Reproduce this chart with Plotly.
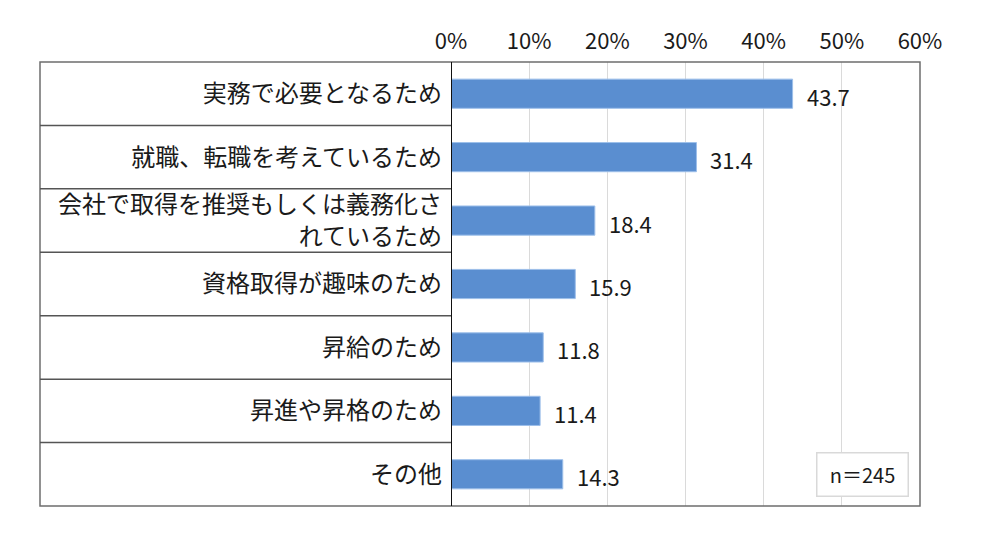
import plotly.graph_objects as go

categories = [
    "実務で必要となるため",
    "就職、転職を考えているため",
    "会社で取得を推奨もしくは義務化さ<br>れているため",
    "資格取得が趣味のため",
    "昇給のため",
    "昇進や昇格のため",
    "その他",
]
values = [43.7, 31.4, 18.4, 15.9, 11.8, 11.4, 14.3]
tick_vals = [0, 10, 20, 30, 40, 50, 60]
tick_text = ["0%", "10%", "20%", "30%", "40%", "50%", "60%"]
note = "n＝245"

# page body has an 8px margin; size the figure to fit the window
OFF = 8
W, H = 1000 - 2 * OFF, 540 - 2 * OFF
L, T = 451 - OFF, 62 - OFF
R = W - (920 - OFF)
B = H - (506 - OFF)
plot_w = W - L - R
plot_h = H - T - B
frame_left = 40 - OFF
left_paper = ((frame_left) - L) / plot_w

FONT = "Noto Sans CJK JP, Noto Sans, sans-serif"

fig = go.Figure()
fig.add_trace(go.Bar(
    y=categories, x=values, orientation="h",
    marker=dict(color="#5A8ED0", line=dict(color="#9DBFEA", width=1)),
    width=0.46, hoverinfo="skip",
))

for c, v in zip(categories, values):
    fig.add_annotation(x=v, y=c, xref="x", yref="y", text=f"{v:.1f}",
                       showarrow=False, xanchor="left", xshift=12, yshift=-2,
                       font=dict(size=22, color="#1a1a1a", family=FONT))

# left box: outer frame and row separators
fig.add_shape(type="rect", xref="paper", yref="paper", x0=left_paper, x1=1, y0=0, y1=1,
              line=dict(color="#6e6e6e", width=1.5), layer="above")
for i in range(len(categories) - 1):
    fig.add_shape(type="line", xref="paper", yref="y", x0=left_paper, x1=0,
                  y0=i + 0.5, y1=i + 0.5, line=dict(color="#555555", width=1.5))
fig.add_shape(type="line", xref="x", yref="paper", x0=0, x1=0, y0=0, y1=1,
              line=dict(color="#111111", width=2), layer="above")

fig.add_annotation(xref="paper", yref="paper",
                   x=(909 - 451) / plot_w, y=(506 - 497) / plot_h,
                   xanchor="right", yanchor="bottom", text=note, showarrow=False,
                   width=88, height=40, bordercolor="#d9d9d9", borderwidth=1.5, bgcolor="white",
                   font=dict(size=20, color="#1a1a1a", family=FONT))

fig.update_layout(
    width=W, height=H,
    margin=dict(l=L, r=R, t=T, b=B),
    paper_bgcolor="white", plot_bgcolor="white",
    showlegend=False,
    font=dict(family=FONT, color="#1a1a1a"),
    xaxis=dict(side="top", range=[0, 60], tickvals=tick_vals, ticktext=tick_text,
               showgrid=True, gridcolor="#dadada", gridwidth=1, zeroline=False,
               ticks="", ticklabelstandoff=8, tickfont=dict(size=22, color="#1a1a1a"),
               showline=False, fixedrange=True),
    yaxis=dict(range=[6.5, -0.5], showgrid=False, zeroline=False, ticks="",
               ticklabelstandoff=8, tickfont=dict(size=24, color="#1a1a1a"),
               showline=False, fixedrange=True),
)

fig.write_html("out.html", config={"displayModeBar": False})
